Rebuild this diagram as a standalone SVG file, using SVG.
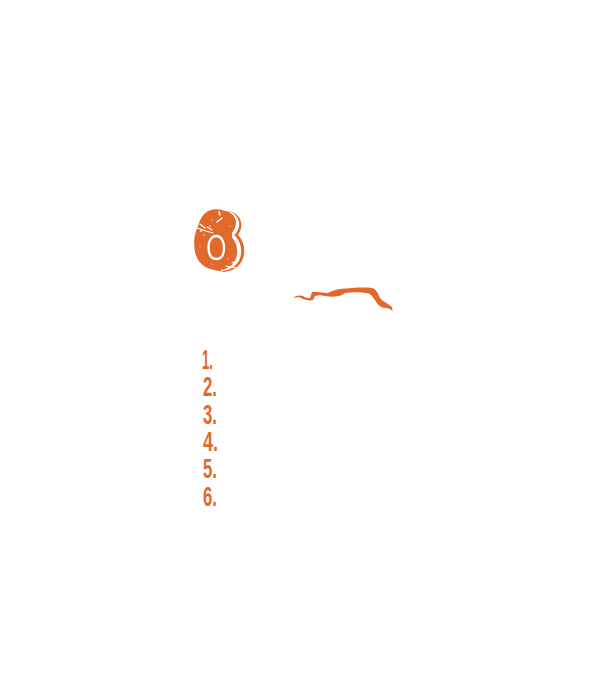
<svg xmlns="http://www.w3.org/2000/svg" width="605" height="680" viewBox="0 0 605 680">
<style>
.n{font-family:"Liberation Sans",Arial,sans-serif;font-weight:700;font-size:27px;fill:#e2692c}
.big{font-family:"Liberation Sans",Arial,sans-serif;font-weight:700;font-size:82px;stroke-linejoin:round;fill:#e2692c;stroke:#e2692c}
.w{fill:none;stroke:#fff;stroke-linecap:round}
.d{fill:#fff}
</style>
<rect width="605" height="680" fill="#fff"/>
<g id="badge">
<path fill="#e2692c" d="M222 211 C232 210 239 214 241 222 C242 228 240 232 238 235 C243 240 245 247 244 254 C243 264 235 271 224 272 L214 270 Z"/>
<path fill="#fff" stroke="#fff" stroke-width="2" d="M221 211 C230 211 236 215 238 222 C239 228 236 232 233 235 C238 240 241 247 240 254 C239 263 232 269 222 270 Z"/>
<path fill="#e2692c" d="M216 211 C228 209 235 214 236 222 C236 228 233 232 230 235 C235 240 238 247 237 254 C236 263 230 269 220 270 C208 271 198 265 195 252 C192 236 197 218 216 211 Z"/>
<text class="big" x="195" y="267" stroke-width="2" textLength="40" lengthAdjust="spacingAndGlyphs">6</text>
<path fill="#e2692c" d="M197 238 L232 232 L232 262 L200 262 Z"/>
<path fill="#e2692c" stroke="#fff" stroke-width="2.4" d="M216.500 236 C221 236 224 241 224 248 C224 255 221 259 216.500 259 C211 259 208.500 254 208.500 247 C208.500 240 212 236 216.500 236 Z"/>
<path class="w" stroke-width="1.5" d="M217 222 L222 218 M219 212 L220 215"/>
<path class="w" stroke-width="1.1" d="M197 228 L206 231 L213 233 M200 224 L205 228 M226 266 L236 268 M232 263 L238 260 M207 227 L212 230"/>
<g class="d"><circle cx="201" cy="231" r=".9"/><circle cx="210" cy="226" r=".7"/><circle cx="197" cy="222" r=".6"/><circle cx="204" cy="235" r=".7"/><circle cx="212" cy="220" r=".6"/><circle cx="228" cy="259" r=".6"/><circle cx="200" cy="246" r=".5"/><circle cx="230" cy="226" r=".5"/><circle cx="212" cy="264" r=".5"/></g>
</g>
<g id="flourish">
<path fill="#e2692c" d="M293 298 C296 295 300 295 303 296 C306 298 308 298 310 298 L312 292 C317 291 323 293 328 293 C332 291 336 289 345 288.500 C354 288 364 287 372 288 C376 289 378 293 380 298 C383 302 388 303 392 307 L392.500 311 C389 308 387 308 384 308 C380 307 377 304 375 300 C372 296 370 293 366 293 C360 292 352 292 345 293 L342 295 C337 297 331 297 325 296 C321 295 318 295 315 296 L313 300 C310 301 306 300 303 299 C300 297 297 297 293 298 Z"/>
</g>
<g id="list">
<text class="n" x="202" y="369" textLength="11" lengthAdjust="spacingAndGlyphs">1.</text>
<text class="n" x="203" y="396" textLength="14" lengthAdjust="spacingAndGlyphs">2.</text>
<text class="n" x="203" y="424" textLength="14" lengthAdjust="spacingAndGlyphs">3.</text>
<text class="n" x="203" y="451" textLength="15" lengthAdjust="spacingAndGlyphs">4.</text>
<text class="n" x="203" y="478" textLength="14" lengthAdjust="spacingAndGlyphs">5.</text>
<text class="n" x="203" y="506" textLength="14" lengthAdjust="spacingAndGlyphs">6.</text>
</g>
</svg>
